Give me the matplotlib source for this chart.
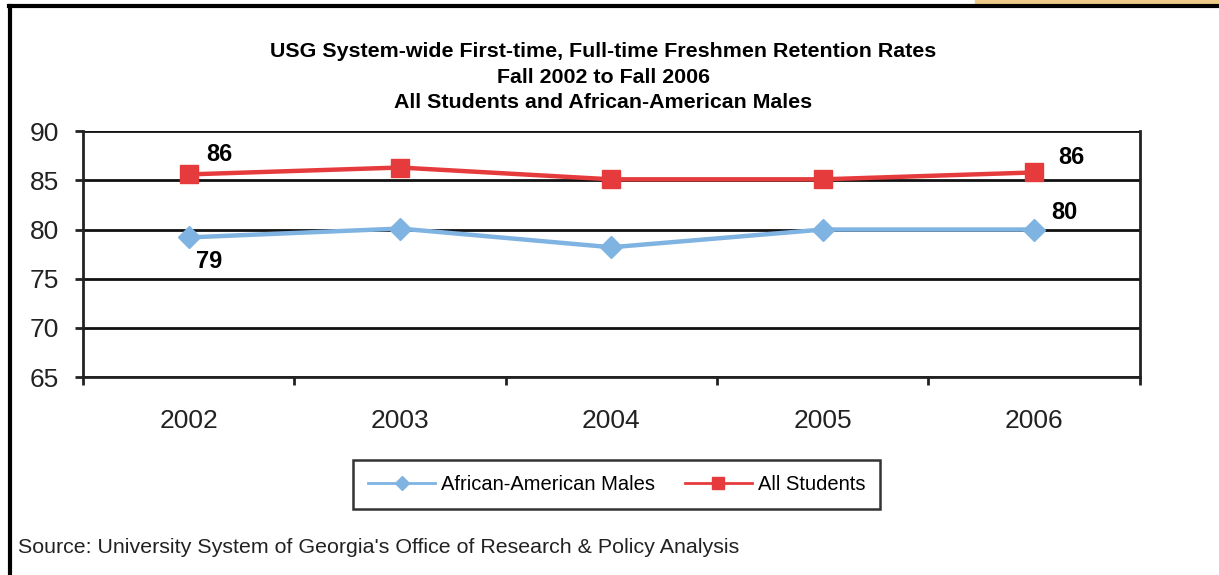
import matplotlib.pyplot as plt
from matplotlib.lines import Line2D
from matplotlib.patches import Rectangle

plt.rcParams['font.family'] = ['Liberation Sans', 'DejaVu Sans']

# Data
years = ['2002', '2003', '2004', '2005', '2006']
aa_males = [79.2, 80.1, 78.2, 80.0, 80.0]
all_students = [85.6, 86.3, 85.1, 85.1, 85.8]
y_ticks = [65, 70, 75, 80, 85, 90]

blue = '#7fb3e2'
red = '#e63b3d'

fig = plt.figure(figsize=(12.19, 5.75), dpi=100)
ax = fig.add_axes([0.068, 0.344, 0.867, 0.428])

x = list(range(len(years)))
ax.plot(x, aa_males, color=blue, lw=3.2, marker='D', ms=11, mec=blue, zorder=4)
ax.plot(x, all_students, color=red, lw=3.2, marker='s', ms=13, mec=red, zorder=5)

# data labels on the end points
lab = dict(fontsize=17, fontweight='bold', textcoords='offset points', ha='center', va='center')
ax.annotate('86', (x[0], all_students[0]), xytext=(22, 14), **lab)
ax.annotate('79', (x[0], aa_males[0]), xytext=(15, -17), **lab)
ax.annotate('86', (x[-1], all_students[-1]), xytext=(27, 11), **lab)
ax.annotate('80', (x[-1], aa_males[-1]), xytext=(22, 12), **lab)

ax.set_xlim(-0.5, len(years) - 0.5)
ax.set_ylim(65, 90)
ax.set_yticks(y_ticks)
ax.set_yticklabels([str(v) for v in y_ticks])
ax.set_xticks(x)
ax.set_xticklabels(years)
ax.set_xticks([i - 0.5 for i in range(len(years) + 1)], minor=True)
ax.tick_params(axis='x', which='major', length=0, pad=23, labelsize=19, colors='#222222')
ax.tick_params(axis='x', which='minor', length=6, width=2, direction='out', color='#222222')
ax.tick_params(axis='y', length=6, width=2, direction='out', pad=11, labelsize=19,
               colors='#222222')

ax.grid(axis='y', color='#111111', lw=2)
ax.set_axisbelow(True)
for s in ['left', 'right', 'bottom']:
    ax.spines[s].set_linewidth(2)
    ax.spines[s].set_color('#222222')
ax.spines['top'].set_visible(False)

fig.text(0.495, 0.866, 'USG System-wide First-time, Full-time Freshmen Retention Rates\n'
         'Fall 2002 to Fall 2006\nAll Students and African-American Males',
         ha='center', va='center', fontsize=15.4, fontweight='bold', linespacing=1.42)

handles = [Line2D([], [], color=blue, lw=2, marker='D', ms=7),
           Line2D([], [], color=red, lw=2, marker='s', ms=8)]
leg = fig.legend(handles, ['African-American Males', 'All Students'], loc='center',
                 bbox_to_anchor=(0.506, 0.157), ncol=2, fontsize=14.5, frameon=True,
                 fancybox=False, edgecolor='black', handlelength=3.3, columnspacing=1.5,
                 borderpad=0.75, handletextpad=0.3)
leg.get_frame().set_linewidth(1.8)

fig.text(0.015, 0.047, "Source: University System of Georgia's Office of Research & Policy Analysis",
         ha='left', va='center', fontsize=15.4, color='#222222')

# page frame around the chart
fig.add_artist(Line2D([0.008, 0.008], [0.0, 0.99], color='black', lw=3, transform=fig.transFigure))
fig.add_artist(Line2D([0.007, 1.0], [0.99, 0.99], color='black', lw=3, transform=fig.transFigure))
fig.add_artist(Rectangle((0.8, 0.992), 0.2, 0.01, color='#efcb8a', transform=fig.transFigure))

fig.savefig('out.png', dpi=100)
